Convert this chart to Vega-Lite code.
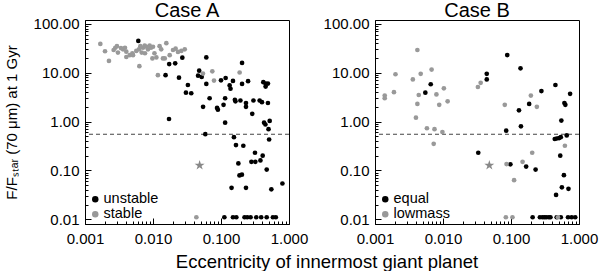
{
"$schema": "https://vega.github.io/schema/vega-lite/v6.json",
"padding": {"left": 3, "top": 0, "right": 0, "bottom": 0},
"title": {"text": "Eccentricity of innermost giant planet", "orient": "bottom", "anchor": "middle", "dx": 26, "fontSize": 18.5, "offset": 3, "font": "Liberation Sans", "fontWeight": "normal", "color": "#000"},
"config": {
  "font": "Liberation Sans",
  "view": {"stroke": "#000", "strokeWidth": 1},
  "axis": {"labelFont": "Liberation Sans", "labelFontSize": 15, "labelColor": "#000", "titleFont": "Liberation Sans", "titleFontSize": 15, "titleFontWeight": "normal", "titleColor": "#000", "grid": false, "domainColor": "#000", "tickColor": "#000", "labelOverlap": false, "labelFlush": false},
  "title": {"font": "Liberation Sans", "fontSize": 20, "fontWeight": "normal", "color": "#000", "offset": -4},
  "legend": {"labelFont": "Liberation Sans", "labelFontSize": 14.5, "labelColor": "#000", "orient": "bottom-left", "offset": 3, "rowPadding": 0, "symbolSize": 42, "symbolType": "circle", "symbolStrokeWidth": 0, "labelOffset": 1}
},
"datasets": {
  "pts": [
    {"p":"A","e":0.00608,"f":44.7,"t":"unstable"},{"p":"A","e":0.027,"f":20.3,"t":"unstable"},{"p":"A","e":0.0212,"f":15.6,"t":"unstable"},{"p":"A","e":0.0173,"f":15,"t":"unstable"},{"p":"A","e":0.0608,"f":20.6,"t":"unstable"},{"p":"A","e":0.204,"f":15.9,"t":"unstable"},{"p":"A","e":0.0153,"f":8.9,"t":"unstable"},{"p":"A","e":0.0241,"f":7.9,"t":"unstable"},{"p":"A","e":0.0478,"f":11.0,"t":"unstable"},{"p":"A","e":0.046,"f":8.7,"t":"unstable"},{"p":"A","e":0.052,"f":8.2,"t":"unstable"},{"p":"A","e":0.0608,"f":5.9,"t":"unstable"},{"p":"A","e":0.0326,"f":5.6,"t":"unstable"},{"p":"A","e":0.0305,"f":3.9,"t":"unstable"},{"p":"A","e":0.0365,"f":3.8,"t":"unstable"},{"p":"A","e":0.1,"f":7.0,"t":"unstable"},{"p":"A","e":0.117,"f":7.8,"t":"unstable"},{"p":"A","e":0.15,"f":6.8,"t":"unstable"},{"p":"A","e":0.134,"f":5.5,"t":"unstable"},{"p":"A","e":0.138,"f":4.7,"t":"unstable"},{"p":"A","e":0.204,"f":5.9,"t":"unstable"},{"p":"A","e":0.25,"f":6.7,"t":"unstable"},{"p":"A","e":0.419,"f":6.4,"t":"unstable"},{"p":"A","e":0.453,"f":6.0,"t":"unstable"},{"p":"A","e":0.453,"f":5.2,"t":"unstable"},{"p":"A","e":0.49,"f":6.0,"t":"unstable"},{"p":"A","e":0.068,"f":3.0,"t":"unstable"},{"p":"A","e":0.115,"f":3.0,"t":"unstable"},{"p":"A","e":0.16,"f":2.8,"t":"unstable"},{"p":"A","e":0.163,"f":2.6,"t":"unstable"},{"p":"A","e":0.193,"f":2.7,"t":"unstable"},{"p":"A","e":0.0545,"f":2.0,"t":"unstable"},{"p":"A","e":0.0875,"f":1.9,"t":"unstable"},{"p":"A","e":0.09,"f":1.75,"t":"unstable"},{"p":"A","e":0.109,"f":2.2,"t":"unstable"},{"p":"A","e":0.233,"f":2.4,"t":"unstable"},{"p":"A","e":0.233,"f":2.0,"t":"unstable"},{"p":"A","e":0.3,"f":2.7,"t":"unstable"},{"p":"A","e":0.37,"f":2.7,"t":"unstable"},{"p":"A","e":0.4,"f":2.5,"t":"unstable"},{"p":"A","e":0.49,"f":2.4,"t":"unstable"},{"p":"A","e":0.288,"f":1.44,"t":"unstable"},{"p":"A","e":0.0172,"f":1.13,"t":"unstable"},{"p":"A","e":0.115,"f":0.95,"t":"unstable"},{"p":"A","e":0.43,"f":0.95,"t":"unstable"},{"p":"A","e":0.45,"f":0.87,"t":"unstable"},{"p":"A","e":0.5,"f":0.7,"t":"unstable"},{"p":"A","e":0.52,"f":1.03,"t":"unstable"},{"p":"A","e":0.0588,"f":0.553,"t":"unstable"},{"p":"A","e":0.155,"f":0.48,"t":"unstable"},{"p":"A","e":0.166,"f":0.33,"t":"unstable"},{"p":"A","e":0.213,"f":0.32,"t":"unstable"},{"p":"A","e":0.18,"f":0.139,"t":"unstable"},{"p":"A","e":0.187,"f":0.079,"t":"unstable"},{"p":"A","e":0.203,"f":0.082,"t":"unstable"},{"p":"A","e":0.143,"f":0.044,"t":"unstable"},{"p":"A","e":0.233,"f":0.044,"t":"unstable"},{"p":"A","e":0.316,"f":0.23,"t":"unstable"},{"p":"A","e":0.28,"f":0.15,"t":"unstable"},{"p":"A","e":0.32,"f":0.15,"t":"unstable"},{"p":"A","e":0.38,"f":0.16,"t":"unstable"},{"p":"A","e":0.41,"f":0.2,"t":"unstable"},{"p":"A","e":0.47,"f":0.104,"t":"unstable"},{"p":"A","e":0.51,"f":0.43,"t":"unstable"},{"p":"A","e":0.55,"f":0.041,"t":"unstable"},{"p":"A","e":0.8,"f":0.054,"t":"unstable"},
    {"p":"A","e":0.112,"f":0.011,"t":"unstable"},{"p":"A","e":0.15,"f":0.011,"t":"unstable"},{"p":"A","e":0.168,"f":0.011,"t":"unstable"},{"p":"A","e":0.222,"f":0.011,"t":"unstable"},{"p":"A","e":0.243,"f":0.011,"t":"unstable"},{"p":"A","e":0.272,"f":0.011,"t":"unstable"},{"p":"A","e":0.33,"f":0.011,"t":"unstable"},{"p":"A","e":0.39,"f":0.011,"t":"unstable"},{"p":"A","e":0.47,"f":0.011,"t":"unstable"},{"p":"A","e":0.58,"f":0.011,"t":"unstable"},{"p":"A","e":0.64,"f":0.011,"t":"unstable"},
    {"p":"A","e":0.00168,"f":38.9,"t":"stable"},{"p":"A","e":0.00197,"f":27.5,"t":"stable"},{"p":"A","e":0.00225,"f":17.4,"t":"stable"},{"p":"A","e":0.00264,"f":29.2,"t":"stable"},{"p":"A","e":0.00279,"f":32.4,"t":"stable"},{"p":"A","e":0.00295,"f":35,"t":"stable"},{"p":"A","e":0.00305,"f":25.8,"t":"stable"},{"p":"A","e":0.00338,"f":32,"t":"stable"},{"p":"A","e":0.00362,"f":30.1,"t":"stable"},{"p":"A","e":0.00387,"f":32.4,"t":"stable"},{"p":"A","e":0.00405,"f":27,"t":"stable"},{"p":"A","e":0.00405,"f":21,"t":"stable"},{"p":"A","e":0.00454,"f":22.9,"t":"stable"},{"p":"A","e":0.00497,"f":25,"t":"stable"},{"p":"A","e":0.00508,"f":22.9,"t":"stable"},{"p":"A","e":0.00568,"f":27.9,"t":"stable"},{"p":"A","e":0.00622,"f":30.1,"t":"stable"},{"p":"A","e":0.00652,"f":35,"t":"stable"},{"p":"A","e":0.00682,"f":25.8,"t":"stable"},{"p":"A","e":0.00713,"f":32.4,"t":"stable"},{"p":"A","e":0.00755,"f":36.1,"t":"stable"},{"p":"A","e":0.00762,"f":25,"t":"stable"},{"p":"A","e":0.00798,"f":34,"t":"stable"},{"p":"A","e":0.00844,"f":30.1,"t":"stable"},{"p":"A","e":0.00893,"f":36.1,"t":"stable"},{"p":"A","e":0.00935,"f":32.4,"t":"stable"},{"p":"A","e":0.0098,"f":19.6,"t":"stable"},{"p":"A","e":0.01,"f":34,"t":"stable"},{"p":"A","e":0.0105,"f":25,"t":"stable"},{"p":"A","e":0.0112,"f":20.6,"t":"stable"},{"p":"A","e":0.0125,"f":35,"t":"stable"},{"p":"A","e":0.0132,"f":30.1,"t":"stable"},{"p":"A","e":0.014,"f":19.6,"t":"stable"},{"p":"A","e":0.0149,"f":19.6,"t":"stable"},{"p":"A","e":0.0157,"f":40.2,"t":"stable"},{"p":"A","e":0.0176,"f":22.9,"t":"stable"},{"p":"A","e":0.0197,"f":29.2,"t":"stable"},{"p":"A","e":0.0215,"f":31,"t":"stable"},{"p":"A","e":0.0233,"f":26.7,"t":"stable"},{"p":"A","e":0.0261,"f":27.9,"t":"stable"},{"p":"A","e":0.0293,"f":30.1,"t":"stable"},{"p":"A","e":0.0063,"f":13.6,"t":"stable"},{"p":"A","e":0.0118,"f":8.9,"t":"stable"},{"p":"A","e":0.0543,"f":9.6,"t":"stable"},{"p":"A","e":0.0745,"f":10.7,"t":"stable"},{"p":"A","e":0.0789,"f":6.9,"t":"stable"},{"p":"A","e":0.188,"f":10.1,"t":"stable"},{"p":"A","e":0.0434,"f":0.011,"t":"stable"},
    {"p":"B","e":0.0066,"f":5.8,"t":"equal"},{"p":"B","e":0.0055,"f":3.9,"t":"equal"},{"p":"B","e":0.044,"f":9.5,"t":"equal"},{"p":"B","e":0.044,"f":7.3,"t":"equal"},{"p":"B","e":0.088,"f":23,"t":"equal"},{"p":"B","e":0.138,"f":12.3,"t":"equal"},{"p":"B","e":0.131,"f":1.7,"t":"equal"},{"p":"B","e":0.185,"f":2.3,"t":"equal"},{"p":"B","e":0.28,"f":4.2,"t":"equal"},{"p":"B","e":0.45,"f":5.6,"t":"equal"},{"p":"B","e":0.61,"f":2.4,"t":"equal"},{"p":"B","e":0.63,"f":2.2,"t":"equal"},{"p":"B","e":0.74,"f":3.7,"t":"equal"},{"p":"B","e":0.55,"f":1.05,"t":"equal"},{"p":"B","e":0.085,"f":0.65,"t":"equal"},{"p":"B","e":0.14,"f":0.8,"t":"equal"},{"p":"B","e":0.033,"f":0.23,"t":"equal"},{"p":"B","e":0.098,"f":0.133,"t":"equal"},{"p":"B","e":0.167,"f":0.12,"t":"equal"},{"p":"B","e":0.23,"f":0.104,"t":"equal"},{"p":"B","e":0.44,"f":0.44,"t":"equal"},{"p":"B","e":0.47,"f":0.45,"t":"equal"},{"p":"B","e":0.51,"f":0.46,"t":"equal"},{"p":"B","e":0.54,"f":0.48,"t":"equal"},{"p":"B","e":0.66,"f":0.52,"t":"equal"},{"p":"B","e":0.53,"f":0.2,"t":"equal"},{"p":"B","e":0.6,"f":0.08,"t":"equal"},{"p":"B","e":0.56,"f":0.045,"t":"equal"},{"p":"B","e":0.46,"f":0.0315,"t":"equal"},{"p":"B","e":0.7,"f":0.042,"t":"equal"},
    {"p":"B","e":0.208,"f":0.011,"t":"equal"},{"p":"B","e":0.266,"f":0.011,"t":"equal"},{"p":"B","e":0.29,"f":0.011,"t":"equal"},{"p":"B","e":0.31,"f":0.011,"t":"equal"},{"p":"B","e":0.33,"f":0.011,"t":"equal"},{"p":"B","e":0.36,"f":0.011,"t":"equal"},{"p":"B","e":0.38,"f":0.011,"t":"equal"},{"p":"B","e":0.47,"f":0.011,"t":"equal"},{"p":"B","e":0.54,"f":0.011,"t":"equal"},{"p":"B","e":0.69,"f":0.011,"t":"equal"},{"p":"B","e":0.78,"f":0.011,"t":"equal"},{"p":"B","e":0.88,"f":0.011,"t":"equal"},
    {"p":"B","e":0.00139,"f":3.4,"t":"lowmass"},{"p":"B","e":0.00139,"f":3.0,"t":"lowmass"},{"p":"B","e":0.0019,"f":4.0,"t":"lowmass"},{"p":"B","e":0.002,"f":9.3,"t":"lowmass"},{"p":"B","e":0.0042,"f":29.2,"t":"lowmass"},{"p":"B","e":0.0036,"f":7.3,"t":"lowmass"},{"p":"B","e":0.0047,"f":9.5,"t":"lowmass"},{"p":"B","e":0.0044,"f":3.5,"t":"lowmass"},{"p":"B","e":0.0042,"f":2.3,"t":"lowmass"},{"p":"B","e":0.004,"f":1.2,"t":"lowmass"},{"p":"B","e":0.0068,"f":11.6,"t":"lowmass"},{"p":"B","e":0.008,"f":3.6,"t":"lowmass"},{"p":"B","e":0.0088,"f":2.2,"t":"lowmass"},{"p":"B","e":0.0103,"f":4.8,"t":"lowmass"},{"p":"B","e":0.0117,"f":2.6,"t":"lowmass"},{"p":"B","e":0.0326,"f":5.1,"t":"lowmass"},{"p":"B","e":0.0358,"f":6.2,"t":"lowmass"},{"p":"B","e":0.081,"f":2.2,"t":"lowmass"},{"p":"B","e":0.196,"f":3.4,"t":"lowmass"},{"p":"B","e":0.24,"f":2.0,"t":"lowmass"},{"p":"B","e":0.0058,"f":0.73,"t":"lowmass"},{"p":"B","e":0.0075,"f":0.7,"t":"lowmass"},{"p":"B","e":0.0098,"f":0.61,"t":"lowmass"},{"p":"B","e":0.0073,"f":0.35,"t":"lowmass"},{"p":"B","e":0.086,"f":0.135,"t":"lowmass"},{"p":"B","e":0.148,"f":0.15,"t":"lowmass"},{"p":"B","e":0.205,"f":0.23,"t":"lowmass"},{"p":"B","e":0.111,"f":0.063,"t":"lowmass"},{"p":"B","e":0.62,"f":0.32,"t":"lowmass"},{"p":"B","e":0.084,"f":0.011,"t":"lowmass"},{"p":"B","e":0.105,"f":0.011,"t":"lowmass"},{"p":"B","e":0.49,"f":0.011,"t":"lowmass"}
  ],
  "star": [{"p":"A","e":0.0485,"f":0.127},{"p":"B","e":0.048,"f":0.127}],
  "cut": [{"f":0.55}]
},
"spacing": 13,
"resolve": {"scale": {"color": "independent"}, "legend": {"color": "independent"}},
"hconcat": [
 {
  "width": 204, "height": 204,
  "title": "Case A",
  "layer": [
   {"data": {"name": "cut"}, "mark": {"type": "rule", "strokeDash": [4, 3], "color": "#444", "strokeWidth": 1},
    "encoding": {"y": {"field": "f", "type": "quantitative", "scale": {"type": "log", "domain": [0.008, 120], "nice": false},
      "axis": {"orient": "left", "title": "F/Fₛₜₐᵣ (70 μm) at 1 Gyr", "titlePadding": 14, "format": ".2f", "values": [0.01,0.02,0.03,0.04,0.05,0.06,0.07,0.08,0.09,0.1,0.2,0.3,0.4,0.5,0.6,0.7,0.8,0.9,1,2,3,4,5,6,7,8,9,10,20,30,40,50,60,70,80,90,100],
        "labelExpr": "abs(log(datum.value)/LN10 - round(log(datum.value)/LN10)) < 0.001 ? datum.label : ''",
        "tickSize": {"condition": {"test": "abs(log(datum.value)/LN10 - round(log(datum.value)/LN10)) < 0.001", "value": -6}, "value": -3}, "labelPadding": 12}}}},
   {"data": {"name": "pts"}, "transform": [{"filter": "datum.p == 'A'"}], "mark": {"type": "circle", "opacity": 1, "size": 22},
    "encoding": {
     "x": {"field": "e", "type": "quantitative", "scale": {"type": "log", "domain": [0.001, 1], "nice": false},
      "axis": {"orient": "bottom", "title": null, "format": ".3f", "values": [0.001,0.002,0.003,0.004,0.005,0.006,0.007,0.008,0.009,0.01,0.02,0.03,0.04,0.05,0.06,0.07,0.08,0.09,0.1,0.2,0.3,0.4,0.5,0.6,0.7,0.8,0.9,1],
        "labelExpr": "abs(log(datum.value)/LN10 - round(log(datum.value)/LN10)) < 0.001 ? datum.label : ''",
        "tickSize": {"condition": {"test": "abs(log(datum.value)/LN10 - round(log(datum.value)/LN10)) < 0.001", "value": -6}, "value": -3}, "labelPadding": 13}},
     "y": {"field": "f", "type": "quantitative"},
     "color": {"field": "t", "type": "nominal", "title": null, "scale": {"domain": ["unstable", "stable"], "range": ["#000000", "#999999"]}}
    }},
   {"data": {"name": "star"}, "transform": [{"filter": "datum.p == 'A'"}], "mark": {"type": "point", "shape": "M0,-1L0.2245,-0.309L0.9511,-0.309L0.3633,0.118L0.5878,0.809L0,0.382L-0.5878,0.809L-0.3633,0.118L-0.9511,-0.309L-0.2245,-0.309Z", "filled": true, "color": "#888888", "size": 110, "opacity": 1},
    "encoding": {"x": {"field": "e", "type": "quantitative"}, "y": {"field": "f", "type": "quantitative"}}}
  ]
 },
 {
  "width": 204, "height": 204,
  "title": "Case B",
  "layer": [
   {"data": {"name": "cut"}, "mark": {"type": "rule", "strokeDash": [4, 3], "color": "#444", "strokeWidth": 1},
    "encoding": {"y": {"field": "f", "type": "quantitative", "scale": {"type": "log", "domain": [0.008, 120], "nice": false},
      "axis": {"orient": "left", "title": null, "format": ".2f", "values": [0.01,0.02,0.03,0.04,0.05,0.06,0.07,0.08,0.09,0.1,0.2,0.3,0.4,0.5,0.6,0.7,0.8,0.9,1,2,3,4,5,6,7,8,9,10,20,30,40,50,60,70,80,90,100],
        "labelExpr": "abs(log(datum.value)/LN10 - round(log(datum.value)/LN10)) < 0.001 ? datum.label : ''",
        "tickSize": {"condition": {"test": "abs(log(datum.value)/LN10 - round(log(datum.value)/LN10)) < 0.001", "value": -6}, "value": -3}, "labelPadding": 12}}}},
   {"data": {"name": "pts"}, "transform": [{"filter": "datum.p == 'B'"}], "mark": {"type": "circle", "opacity": 1, "size": 22},
    "encoding": {
     "x": {"field": "e", "type": "quantitative", "scale": {"type": "log", "domain": [0.001, 1], "nice": false},
      "axis": {"orient": "bottom", "title": null, "format": ".3f", "values": [0.001,0.002,0.003,0.004,0.005,0.006,0.007,0.008,0.009,0.01,0.02,0.03,0.04,0.05,0.06,0.07,0.08,0.09,0.1,0.2,0.3,0.4,0.5,0.6,0.7,0.8,0.9,1],
        "labelExpr": "abs(log(datum.value)/LN10 - round(log(datum.value)/LN10)) < 0.001 ? datum.label : ''",
        "tickSize": {"condition": {"test": "abs(log(datum.value)/LN10 - round(log(datum.value)/LN10)) < 0.001", "value": -6}, "value": -3}, "labelPadding": 13}},
     "y": {"field": "f", "type": "quantitative"},
     "color": {"field": "t", "type": "nominal", "title": null, "scale": {"domain": ["equal", "lowmass"], "range": ["#000000", "#999999"]}}
    }},
   {"data": {"name": "star"}, "transform": [{"filter": "datum.p == 'B'"}], "mark": {"type": "point", "shape": "M0,-1L0.2245,-0.309L0.9511,-0.309L0.3633,0.118L0.5878,0.809L0,0.382L-0.5878,0.809L-0.3633,0.118L-0.9511,-0.309L-0.2245,-0.309Z", "filled": true, "color": "#888888", "size": 110, "opacity": 1},
    "encoding": {"x": {"field": "e", "type": "quantitative"}, "y": {"field": "f", "type": "quantitative"}}}
  ]
 }
]
}
